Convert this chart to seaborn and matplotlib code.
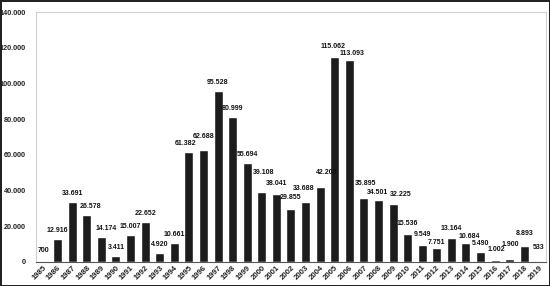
import numpy as np
import pandas as pd
import seaborn as sns
from matplotlib import pyplot as plt
from matplotlib.ticker import FuncFormatter

# ========================================================
years = [str(y) for y in range(1985, 2020)]
values = [700, 12916, 33691, 26578, 14174, 3411, 15007, 22652, 4920, 10661,
          61382, 62688, 95528, 80999, 55694, 39108, 38041, 29855, 33688, 42203,
          115062, 113093, 35895, 34501, 32225, 15536, 9549, 7751, 13164, 10684,
          5490, 1002, 1900, 8893, 533]
yticks = [0, 20000, 40000, 60000, 80000, 100000, 120000, 140000]

# label nudges (dx, dy) in pixels, like Excel moving labels apart
nudge = {"1985": (0, 2), "1988": (4, 0), "1989": (5, 0), "1995": (-3, 0),
         "1996": (0, 5), "2000": (2, 11), "2001": (0, 2), "2002": (0, 3),
         "2003": (-2, 5), "2004": (7, 6), "2005": (-2, 2), "2006": (3, -2),
         "2007": (2, 6), "2008": (-1, -1), "2009": (8, 1), "2010": (0, 2),
         "2011": (0, 2), "2012": (0, -3), "2013": (0, 1), "2014": (3, -2),
         "2016": (1, 2), "2017": (1, 6), "2018": (0, 4), "2019": (0, 5)}

dotfmt = lambda v: f"{int(v):,}".replace(",", ".")

# ========================================================
sns.set_style("white")
plt.rcParams["font.family"] = ["Liberation Sans", "DejaVu Sans"]

df = pd.DataFrame({"year": years, "value": values})

fig = plt.figure(figsize=(5.5, 2.86), dpi=100)
fig.patch.set_edgecolor("#222222")
fig.patch.set_linewidth(2)
ax = fig.add_axes([0.065, 0.084, 0.928, 0.874])

sns.barplot(data=df, x="year", y="value", color="#1c1c1c", width=0.62,
            saturation=1, ax=ax)

px = 0.72  # points per pixel at 100 dpi
for i, (yr, v) in enumerate(zip(years, values)):
    dx, dy = nudge.get(yr, (0, 0))
    ax.annotate(dotfmt(v), (i, v), xytext=(dx * px, (5 + dy) * px),
                textcoords="offset points", ha="center", va="bottom",
                fontsize=5.0, fontweight="bold", color="#111111")

ax.set_ylim(0, 140000)
ax.set_xlim(-0.5, len(years) - 0.5)
ax.set_yticks(yticks)
ax.yaxis.set_major_formatter(FuncFormatter(lambda v, p: dotfmt(v)))
ax.tick_params(axis="y", labelsize=5.2, pad=7, length=0, labelcolor="#222222")
ax.tick_params(axis="x", labelsize=5.6, pad=1.5, length=0, labelcolor="#222222")
plt.setp(ax.get_xticklabels(), rotation=45, ha="right", rotation_mode="anchor",
         fontweight="bold")
plt.setp(ax.get_yticklabels(), fontweight="bold")
ax.set_xlabel("")
ax.set_ylabel("")

for s in ["top", "right", "left"]:
    ax.spines[s].set_color("#d0d0d0")
    ax.spines[s].set_linewidth(0.8)
ax.spines["bottom"].set_color("#555555")
ax.spines["bottom"].set_linewidth(0.8)

plt.savefig("out.png", dpi=100)
